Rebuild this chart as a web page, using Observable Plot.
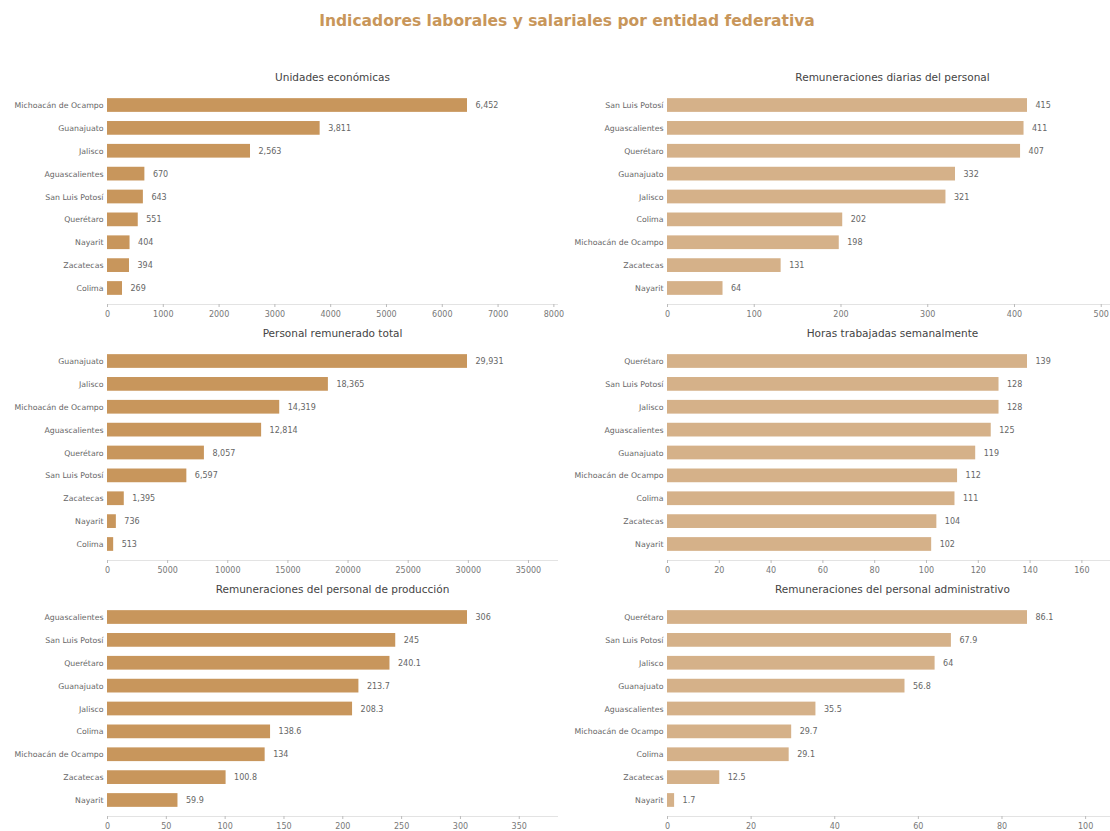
<!DOCTYPE html>
<html><head><meta charset="utf-8">
<script src="https://cdn.jsdelivr.net/npm/d3@7"></script>
<script src="https://cdn.jsdelivr.net/npm/@observablehq/plot@0.6"></script>
<style>
body{margin:0;background:#fff;width:1110px;height:831px;overflow:hidden;position:relative;font-family:"DejaVu Sans",sans-serif}
#title{position:absolute;top:12px;left:12px;width:1110px;text-align:center;font-weight:bold;font-size:15.5px;color:#c8965a}
.panel{position:absolute;width:560px;height:272px}
.panel svg{max-width:none !important}
</style></head><body>
<div id="title">Indicadores laborales y salariales por entidad federativa</div>
<script>
// Data
const unidadesEstados = ["Michoacán de Ocampo","Guanajuato","Jalisco","Aguascalientes","San Luis Potosí","Querétaro","Nayarit","Zacatecas","Colima"];
const unidadesValores = [6452,3811,2563,670,643,551,404,394,269];
const unidadesTicks = [0,1000,2000,3000,4000,5000,6000,7000,8000];

const diariasEstados = ["San Luis Potosí","Aguascalientes","Querétaro","Guanajuato","Jalisco","Colima","Michoacán de Ocampo","Zacatecas","Nayarit"];
const diariasValores = [415,411,407,332,321,202,198,131,64];
const diariasTicks = [0,100,200,300,400,500];

const personalEstados = ["Guanajuato","Jalisco","Michoacán de Ocampo","Aguascalientes","Querétaro","San Luis Potosí","Zacatecas","Nayarit","Colima"];
const personalValores = [29931,18365,14319,12814,8057,6597,1395,736,513];
const personalTicks = [0,5000,10000,15000,20000,25000,30000,35000];

const horasEstados = ["Querétaro","San Luis Potosí","Jalisco","Aguascalientes","Guanajuato","Michoacán de Ocampo","Colima","Zacatecas","Nayarit"];
const horasValores = [139,128,128,125,119,112,111,104,102];
const horasTicks = [0,20,40,60,80,100,120,140,160];

const produccionEstados = ["Aguascalientes","San Luis Potosí","Querétaro","Guanajuato","Jalisco","Colima","Michoacán de Ocampo","Zacatecas","Nayarit"];
const produccionValores = [306,245,240.1,213.7,208.3,138.6,134,100.8,59.9];
const produccionTicks = [0,50,100,150,200,250,300,350];

const adminEstados = ["Querétaro","San Luis Potosí","Jalisco","Guanajuato","Aguascalientes","Michoacán de Ocampo","Colima","Zacatecas","Nayarit"];
const adminValores = [86.1,67.9,64,56.8,35.5,29.7,29.1,12.5,1.7];
const adminTicks = [0,20,40,60,80,100];

const panels = [
  {title:"Unidades económicas", estados:unidadesEstados, valores:unidadesValores, ticks:unidadesTicks, side:0, row:0},
  {title:"Remuneraciones diarias del personal", estados:diariasEstados, valores:diariasValores, ticks:diariasTicks, side:1, row:0},
  {title:"Personal remunerado total", estados:personalEstados, valores:personalValores, ticks:personalTicks, side:0, row:1},
  {title:"Horas trabajadas semanalmente", estados:horasEstados, valores:horasValores, ticks:horasTicks, side:1, row:1},
  {title:"Remuneraciones del personal de producción", estados:produccionEstados, valores:produccionValores, ticks:produccionTicks, side:0, row:2},
  {title:"Remuneraciones del personal administrativo", estados:adminEstados, valores:adminValores, ticks:adminTicks, side:1, row:2}
];
const colors = ["#c8965c", "#d5b189"];
const fmt = d3.format(",");

for (const p of panels) {
  const data = p.estados.map((e, i) => ({estado: e, valor: p.valores[i]}));
  const maxV = d3.max(p.valores);
  const chart = Plot.plot({
    width: 560,
    height: 272,
    marginLeft: 107,
    marginRight: 3,
    marginTop: 29,
    marginBottom: 28,
    style: {fontFamily: "DejaVu Sans, sans-serif", background: "transparent", overflow: "visible", maxWidth: "none"},
    x: {domain: [0, maxV * 1.25]},
    y: {domain: p.estados, padding: 0.4, round: false},
    marks: [
      Plot.barX(data, {x: "valor", y: "estado", fill: colors[p.side]}),
      Plot.text(data, {x: "valor", y: "estado", text: d => fmt(d.valor), textAnchor: "start", dx: 8, fontSize: 8, fill: "#666"}),
      Plot.axisY({tickSize: 0, tickPadding: 4, fontSize: 7.8, color: "#666", label: null}),
      Plot.frame({anchor: "bottom", stroke: "#e3e3e3"}),
      Plot.axisX({ticks: p.ticks, tickSize: 3, text: null, color: "#bbb", label: null}),
      Plot.axisX({ticks: p.ticks, tickSize: 3, tickPadding: 4, tickFormat: d => String(d), fontSize: 8, color: "#777", stroke: "none", label: null}),
      Plot.text([p.title], {frameAnchor: "top", lineAnchor: "middle", dy: -12, fontSize: 10.5, fill: "#444"})
    ]
  });
  const wrap = document.createElement("div");
  wrap.className = "panel";
  wrap.style.left = (p.side * 560) + "px";
  wrap.style.top = (60 + p.row * 256) + "px";
  wrap.appendChild(chart);
  document.body.appendChild(wrap);
}
</script>
</body></html>
